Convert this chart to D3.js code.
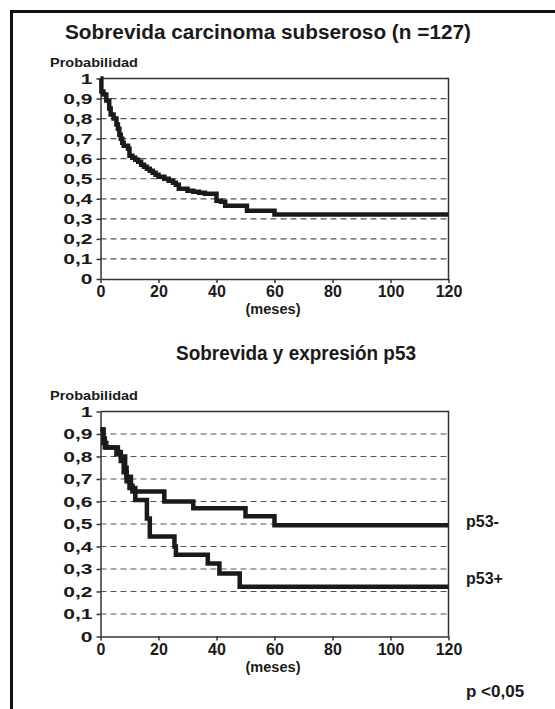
<!DOCTYPE html>
<html>
<head>
<meta charset="utf-8">
<script src="https://cdn.jsdelivr.net/npm/d3@7"></script>
<style>
  body { margin: 0; background: #fff; }
  svg { display: block; }
  text { font-family: "Liberation Sans", Arial, sans-serif; font-weight: bold; fill: #1a1a1a; }
</style>
</head>
<body>
<svg id="chart" width="555" height="709"></svg>
<script>
// ticks
const yTicks = [0, 0.1, 0.2, 0.3, 0.4, 0.5, 0.6, 0.7, 0.8, 0.9, 1]
const xTicks = [0, 20, 40, 60, 80, 100, 120]

// overall survival, subserous carcinoma (n = 127)
const allMonths = [0, 0.3, 1, 2, 3, 3.5, 4.5, 5.5, 6, 6.5, 7, 7.5, 8, 9.5, 10, 11, 12, 13, 14, 15, 16, 17, 18, 19, 20, 22, 23.5, 25, 26, 27, 30, 32, 34, 36, 40, 41.5, 43, 50.5, 60, 120]
const allSurv   = [1, 0.935, 0.92, 0.89, 0.85, 0.82, 0.80, 0.77, 0.75, 0.72, 0.70, 0.68, 0.665, 0.65, 0.615, 0.605, 0.595, 0.585, 0.57, 0.56, 0.55, 0.54, 0.53, 0.52, 0.51, 0.50, 0.49, 0.48, 0.47, 0.45, 0.44, 0.435, 0.43, 0.425, 0.39, 0.385, 0.365, 0.34, 0.322, 0.322]

// survival by p53 expression
const negMonths = [0, 1, 1.5, 6, 7, 8.5, 9, 10.5, 11, 22, 32, 50, 60, 120]
const negSurv   = [0.92, 0.88, 0.84, 0.82, 0.80, 0.75, 0.71, 0.67, 0.645, 0.60, 0.57, 0.535, 0.495, 0.495]
const posMonths = [0, 1, 2, 5.5, 7, 8, 9, 10, 12, 16, 17, 25.5, 26, 37, 41, 48, 120]
const posSurv   = [0.92, 0.86, 0.84, 0.81, 0.78, 0.73, 0.69, 0.66, 0.607, 0.525, 0.445, 0.40, 0.363, 0.325, 0.28, 0.221, 0.221]

const svg = d3.select('#chart')

// outer frame (open to the right and bottom)
svg.append('path')
  .attr('d', 'M11.5,709 V11.5 H555')
  .attr('fill', 'none')
  .attr('stroke', '#111')
  .attr('stroke-width', 3)

const comma = d => String(d).replace('.', ',')

function drawPanel (cfg) {
  const x = d3.scaleLinear().domain([0, 120]).range([100.5, 448.5])
  const y = d3.scaleLinear().domain([0, 1]).range([cfg.bottom, cfg.top])
  const g = svg.append('g')

  // dashed gridlines
  g.selectAll('line.grid')
    .data(yTicks.filter(d => d > 0 && d < 1))
    .join('line')
      .attr('x1', x(0)).attr('x2', x(120))
      .attr('y1', d => y(d)).attr('y2', d => y(d))
      .attr('stroke', '#555')
      .attr('stroke-width', 1.2)
      .attr('stroke-dasharray', '6,4')

  // top + right border
  g.append('path')
    .attr('d', `M${x(0)},${y(1)} H${x(120)} V${y(0)}`)
    .attr('fill', 'none')
    .attr('stroke', '#333')
    .attr('stroke-width', 1.5)

  const yAxis = g.append('g')
    .attr('transform', `translate(${x(0)},0)`)
    .call(d3.axisLeft(y).tickValues(yTicks).tickFormat(comma).tickSize(4).tickSizeOuter(0))
  yAxis.selectAll('text')
    .attr('font-size', 14.5)
    .attr('transform', 'scale(1.45,1)')
    .attr('x', -8 / 1.45)
    .attr('fill', '#1a1a1a')

  const xAxis = g.append('g')
    .attr('transform', `translate(0,${y(0)})`)
    .call(d3.axisBottom(x).tickValues(xTicks).tickSize(4).tickSizeOuter(0))
  xAxis.selectAll('text')
    .attr('font-size', 16)
    .attr('fill', '#1a1a1a')

  for (const ax of [yAxis, xAxis]) {
    ax.select('.domain').attr('stroke', '#333').attr('stroke-width', 1.5)
    ax.selectAll('.tick line').attr('stroke', '#333').attr('stroke-width', 1.5)
  }

  const line = d3.line()
    .x(d => x(d[0]))
    .y(d => y(d[1]))
    .curve(d3.curveStepAfter)

  cfg.series.forEach(s => {
    g.append('path')
      .datum(d3.zip(s.months, s.surv))
      .attr('fill', 'none')
      .attr('stroke', '#1a1a1a')
      .attr('stroke-width', 4.5)
      .attr('d', line)
  })

  g.append('text')
    .attr('x', cfg.titleX).attr('y', cfg.titleY)
    .attr('font-size', 19.5)
    .attr('textLength', cfg.titleLen)
    .attr('lengthAdjust', 'spacingAndGlyphs')
    .text(cfg.title)

  g.append('text')
    .attr('x', 50).attr('y', cfg.top - 12)
    .attr('font-size', 13)
    .attr('textLength', 88)
    .attr('lengthAdjust', 'spacingAndGlyphs')
    .text('Probabilidad')

  g.append('text')
    .attr('x', 273).attr('y', y(0) + 35)
    .attr('text-anchor', 'middle')
    .attr('font-size', 14)
    .attr('textLength', 55)
    .attr('lengthAdjust', 'spacingAndGlyphs')
    .text('(meses)')

  return { x, y, g }
}

drawPanel({
  top: 78.5, bottom: 279,
  title: 'Sobrevida carcinoma subseroso (n =127)',
  titleX: 65, titleY: 39, titleLen: 406,
  series: [{ months: allMonths, surv: allSurv }]
})

const p2 = drawPanel({
  top: 411.5, bottom: 636.5,
  title: 'Sobrevida y expresión p53',
  titleX: 176, titleY: 360, titleLen: 240,
  series: [
    { months: negMonths, surv: negSurv },
    { months: posMonths, surv: posSurv }
  ]
})

p2.g.append('text')
  .attr('x', 466).attr('y', p2.y(0.495) + 2)
  .attr('font-size', 16)
  .text('p53-')
p2.g.append('text')
  .attr('x', 466).attr('y', p2.y(0.221) - 3)
  .attr('font-size', 16)
  .text('p53+')
p2.g.append('text')
  .attr('x', 466).attr('y', 697)
  .attr('font-size', 17)
  .text('p <0,05')
</script>
</body>
</html>
